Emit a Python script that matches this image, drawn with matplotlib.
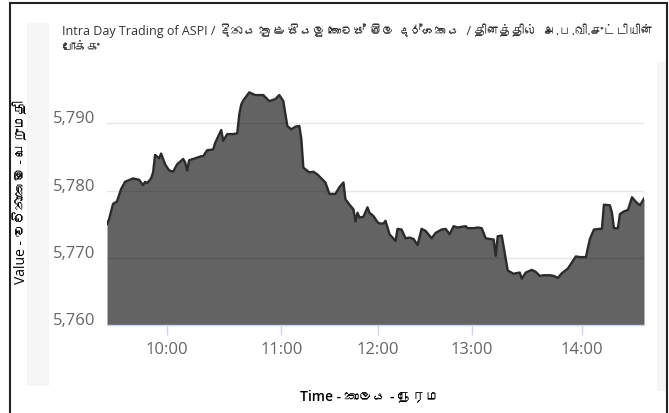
import matplotlib
matplotlib.use("Agg")
import matplotlib.pyplot as plt
from matplotlib import font_manager
from matplotlib.ft2font import FT2Font
from matplotlib.patches import Rectangle
from matplotlib.transforms import ScaledTranslation

# ---------------------------------------------------------------------------
# data: ordinal observation number (about one per minute) and ASPI value
obs = [0, 1, 3, 5, 7, 9, 13, 16, 18, 19, 20, 22, 23, 24, 26, 27, 29, 31, 33, 35,
       38, 39, 40, 41, 44, 47, 48, 50, 53, 54, 57, 58, 60, 63, 65, 66, 67, 68, 71, 74,
       78, 81, 84, 86, 88, 90, 92, 94, 96, 97, 98, 101, 103, 105, 107, 109, 111, 114, 116, 118,
       119, 121, 123, 124, 125, 126, 128, 130, 131, 133, 135, 136, 138, 139, 141, 144, 145, 147, 149, 151,
       153, 155, 157, 159, 162, 164, 167, 169, 171, 173, 175, 179, 180, 183, 185, 187, 189, 191, 193, 194,
       195, 197, 199, 200, 203, 204, 206, 207, 209, 212, 214, 216, 218, 221, 223, 225, 227, 230, 232, 234,
       236, 239, 241, 243, 246, 247, 248, 251, 252, 253, 255, 256, 258, 260, 262, 264, 266, 268]
values = [5775.0, 5775.7, 5778.0, 5778.4, 5780.2, 5781.3, 5781.8, 5781.6, 5780.8, 5781.3,
          5781.1, 5781.8, 5782.7, 5785.3, 5784.8, 5785.5, 5783.9, 5783.0, 5782.8, 5783.9,
          5784.7, 5784.2, 5783.0, 5784.5, 5784.8, 5785.1, 5785.1, 5786.0, 5786.1, 5787.1,
          5789.0, 5787.4, 5788.4, 5788.4, 5788.5, 5791.3, 5792.8, 5793.4, 5794.6, 5794.2,
          5794.2, 5793.3, 5793.6, 5794.2, 5793.3, 5789.6, 5789.1, 5789.5, 5789.6, 5787.6,
          5783.4, 5782.7, 5782.8, 5782.4, 5781.8, 5781.2, 5779.5, 5779.5, 5780.5, 5781.2,
          5778.7, 5777.9, 5777.2, 5775.4, 5776.7, 5776.0, 5776.1, 5777.5, 5776.7, 5776.2,
          5775.3, 5775.1, 5775.1, 5775.5, 5773.5, 5772.5, 5774.3, 5774.2, 5772.9, 5773.0,
          5772.8, 5771.9, 5774.3, 5774.0, 5772.9, 5773.7, 5774.2, 5774.3, 5773.5, 5774.7,
          5774.5, 5774.7, 5774.4, 5774.4, 5774.5, 5774.4, 5772.9, 5772.8, 5772.7, 5770.3,
          5773.2, 5773.3, 5769.8, 5768.1, 5767.6, 5767.7, 5767.8, 5766.9, 5767.8, 5768.2,
          5767.9, 5767.3, 5767.4, 5767.4, 5767.3, 5767.0, 5767.7, 5768.4, 5769.3, 5770.2,
          5770.1, 5770.1, 5772.8, 5774.2, 5774.3, 5774.3, 5777.9, 5777.8, 5776.7, 5774.4,
          5774.4, 5776.5, 5776.9, 5777.1, 5779.0, 5778.3, 5777.8, 5778.8]

# observation where each hour starts (ordinal axis)
hour_obs = [30, 87, 135, 182, 237]
hour_labels = ["10:00", "11:00", "12:00", "13:00", "14:00"]
y_ticks = [5760, 5770, 5780, 5790]
y_tick_labels = ["5,760", "5,770", "5,780", "5,790"]

title = ("Intra Day Trading of ASPI / දිනය තුළ සියලු කොටස් මිල දර්ශකය  / தினத்தில்  அ.ப.வி.சுட்டியின்\n"
         "போக்கு")
x_title = "Time - කාලය - நேரம"
y_title = "Value - වටිනාකම - பெறுமதி"


def families_with(ch):
    # installed families that have a glyph for ch
    found = []
    for f in font_manager.fontManager.ttflist:
        if f.name in found:
            continue
        try:
            cmap = FT2Font(f.fname).get_charmap()
        except Exception:
            continue
        if ord(ch) in cmap:
            found.append(f.name)
    return found


extra = []
for fam in families_with("ක") + families_with("க"):
    if fam not in extra:
        extra.append(fam)
fonts = ["Open Sans"] + extra + ["DejaVu Sans"]
plt.rcParams["font.family"] = fonts

W, H = 669, 414
fig = plt.figure(figsize=(W / 100, H / 100), dpi=100)
fig.patch.set_facecolor("white")

# outer frame and faint side panels
fig.add_artist(Rectangle((27 / W, 1 - 387 / H), 22 / W, 363 / H, transform=fig.transFigure,
                         facecolor="#f6f6f6", edgecolor="none", zorder=0))
fig.add_artist(Rectangle((657 / W, 1 - 392 / H), 9 / W, 329 / H, transform=fig.transFigure,
                         facecolor="#f6f6f6", edgecolor="none", zorder=0))
fig.add_artist(Rectangle((9.5 / W, -0.01), 657 / W, 1 - 3.5 / H + 0.01, transform=fig.transFigure,
                         facecolor="none", edgecolor="#222222", linewidth=1.5, zorder=5))

ax = fig.add_axes([107 / W, 88 / H, 537 / W, 238 / H])
ax.set_facecolor("none")
ax.fill_between(obs, values, 5760, color="black", alpha=0.61, linewidth=0, zorder=2)
ax.plot(obs, values, color="#2b2b2b", linewidth=1.7, zorder=3)

ax.set_xlim(0, 268)
ax.set_ylim(5760, 5795.4)

ax.set_yticks(y_ticks)
ax.set_yticklabels(y_tick_labels)
ax.yaxis.grid(True, color="#e6e6e6", linewidth=1, zorder=0)
ax.set_axisbelow(True)
ax.tick_params(axis="y", length=0, pad=8.5, labelsize=12, labelcolor="#666666")
for lab in ax.get_yticklabels():
    lab.set_transform(lab.get_transform() + ScaledTranslation(0, 7 / 100, fig.dpi_scale_trans))

ax.set_xticks(hour_obs)
ax.set_xticklabels(hour_labels)
ax.tick_params(axis="x", length=10 * 0.72, width=1, color="#ccd6eb", pad=4.5,
               labelsize=12, labelcolor="#666666")

for side in ["top", "right", "left"]:
    ax.spines[side].set_visible(False)
ax.spines["bottom"].set_color("#ccd6eb")
ax.spines["bottom"].set_linewidth(1)
ax.spines["bottom"].set_zorder(4)

# title wraps onto two lines, 16 px apart
for i, line in enumerate(title.split("\n")):
    fig.text(62 / W, 1 - (31 + 16 * i) / H, line, ha="left", va="center", fontsize=9,
             color="#333333")
fig.text(370 / W, 1 - 396 / H, x_title, ha="center", va="center", fontsize=10, color="black",
         fontweight="semibold")
fig.text(22 / W, 1 - 192 / H, y_title, ha="center", va="center", rotation=90, fontsize=10,
         color="black")

fig.savefig("out.png", dpi=100)
